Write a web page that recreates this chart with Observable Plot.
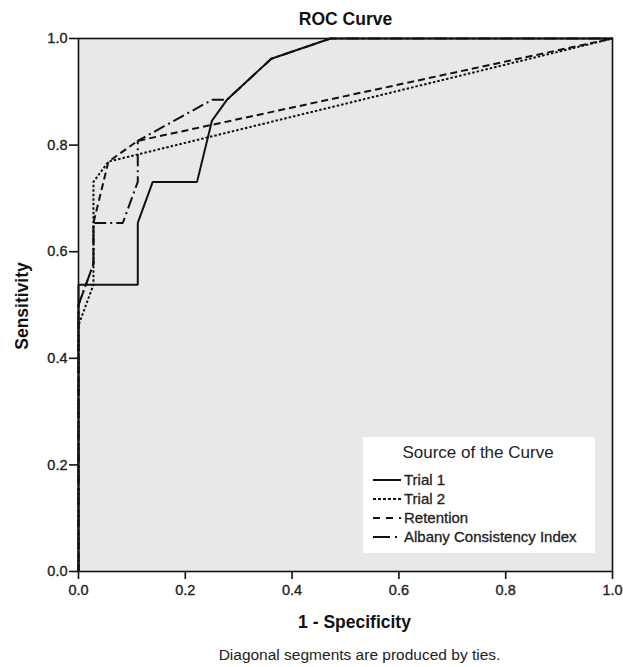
<!DOCTYPE html>
<html><head><meta charset="utf-8">
<script src="https://cdn.jsdelivr.net/npm/d3@7"></script>
<script src="https://cdn.jsdelivr.net/npm/@observablehq/plot@0.6"></script>
<style>body{margin:0;background:#fff;}</style>
</head><body><div id="chart"></div>
<script>
// ---- data ----
const seriesNames = ["Trial 1", "Trial 2", "Retention", "Albany Consistency Index"];
const trial1Fpr = [0, 0, 0.111, 0.111, 0.139, 0.222, 0.25, 0.278, 0.361, 0.472, 1];
const trial1Tpr = [0, 0.538, 0.538, 0.654, 0.731, 0.731, 0.846, 0.885, 0.962, 1, 1];
const trial2Fpr = [0, 0, 0.028, 0.028, 0.056, 1];
const trial2Tpr = [0, 0.462, 0.538, 0.731, 0.769, 1];
const retentionFpr = [0, 0, 0.028, 0.028, 0.056, 0.111, 1];
const retentionTpr = [0, 0.5, 0.577, 0.654, 0.769, 0.808, 1];
const albanyFpr = [0, 0, 0.028, 0.028, 0.083, 0.111, 0.111, 0.25, 0.278, 0.361, 0.472, 1];
const albanyTpr = [0, 0.5, 0.577, 0.654, 0.654, 0.731, 0.808, 0.885, 0.885, 0.962, 1, 1];
const tickValues = [0, 0.2, 0.4, 0.6, 0.8, 1.0];
const tickLabels = ["0.0", "0.2", "0.4", "0.6", "0.8", "1.0"];
const titleText = "ROC Curve";
const xLabel = "1 - Specificity";
const yLabel = "Sensitivity";
const captionText = "Diagonal segments are produced by ties.";
const legendTitle = "Source of the Curve";

// ---- styles ----
const dashes = ["none", "2.5,2", "7,4", "12,4,2,4"];
const legendDashes = ["none", "3,2", "7,6", "17,5,2,5"];
const FONT = "'Liberation Sans', Arial, Helvetica, sans-serif";
const INK = "#111";

const toRows = (name, xs, ys) => xs.map((x, i) => ({series: name, fpr: x, tpr: ys[i]}));
const rows = [
  toRows(seriesNames[0], trial1Fpr, trial1Tpr),
  toRows(seriesNames[1], trial2Fpr, trial2Tpr),
  toRows(seriesNames[2], retentionFpr, retentionTpr),
  toRows(seriesNames[3], albanyFpr, albanyTpr)
];
const fmt = d => tickLabels[tickValues.findIndex(v => Math.abs(v - d) < 1e-9)];

const plot = Plot.plot({
  width: 623,
  height: 667,
  marginLeft: 78,
  marginRight: 11,
  marginTop: 38,
  marginBottom: 96,
  style: {fontFamily: FONT, background: "#fff", color: INK, overflow: "visible"},
  x: {domain: [0, 1]},
  y: {domain: [0, 1]},
  marks: [
    Plot.frame({fill: "#e8e8e8", stroke: "none"}),
    ...rows.map((r, i) => Plot.line(r, {
      x: "fpr", y: "tpr", stroke: INK, strokeWidth: 2,
      strokeDasharray: dashes[i], strokeLinejoin: "miter", strokeLinecap: "butt"
    })),
    Plot.frame({stroke: INK, strokeWidth: 1.6}),
    Plot.axisX({ticks: tickValues, tickFormat: fmt, tickSize: 8, tickPadding: 5,
      fontSize: 14.5, label: null, stroke: INK, strokeWidth: 1.6, fill: "#222"}),
    Plot.axisY({ticks: tickValues, tickFormat: fmt, tickSize: 9, tickPadding: 2,
      fontSize: 14.5, label: null, stroke: INK, strokeWidth: 1.6, fill: "#222"}),
    Plot.text([titleText], {text: d => d, frameAnchor: "top", lineAnchor: "middle",
      dy: -19, fontSize: 17.5, fontWeight: "bold", fill: INK}),
    Plot.text([xLabel], {text: d => d, frameAnchor: "bottom", lineAnchor: "middle",
      dx: 9, dy: 51, fontSize: 17.5, fontWeight: "bold", fill: INK}),
    Plot.text([yLabel], {text: d => d, frameAnchor: "left", textAnchor: "middle", lineAnchor: "middle",
      rotate: -90, dx: -56, dy: 1, fontSize: 17.5, fontWeight: "bold", fill: INK}),
    Plot.text([captionText], {text: d => d, frameAnchor: "bottom", lineAnchor: "middle",
      dx: 14, dy: 84, fontSize: 15.5, fill: "#222"})
  ]
});

// thicken tick labels a little, like the reference's heavy rendering
d3.select(plot).selectAll("g[aria-label$='tick label'] text")
  .attr("stroke", "#222").attr("stroke-width", 0.35);

// ---- legend (inside plot, lower right) ----
const svg = d3.select(plot);
const xs = plot.scale("x"), ys = plot.scale("y");
const boxX = xs.apply(1) - 249, boxY = ys.apply(0) - 134;
const g = svg.append("g").attr("transform", `translate(${boxX},${boxY})`)
  .attr("font-family", FONT);
g.append("rect").attr("width", 232).attr("height", 116).attr("fill", "#fff");
g.append("text").attr("x", 115).attr("y", 15).attr("dy", "0.35em")
  .attr("text-anchor", "middle").attr("font-size", 17).attr("fill", "#222").text(legendTitle);
seriesNames.forEach((name, i) => {
  const cy = 43 + i * 19;
  g.append("line").attr("x1", 10).attr("x2", 38).attr("y1", cy).attr("y2", cy)
    .attr("stroke", INK).attr("stroke-width", 2).attr("stroke-dasharray", legendDashes[i]);
  g.append("text").attr("x", 41).attr("y", cy).attr("dy", "0.35em")
    .attr("text-anchor", "start")
    .attr("font-size", 15).attr("fill", "#222")
    .attr("stroke", "#222").attr("stroke-width", 0.3).text(name);
});

document.getElementById("chart").append(plot);
</script>
</body></html>
